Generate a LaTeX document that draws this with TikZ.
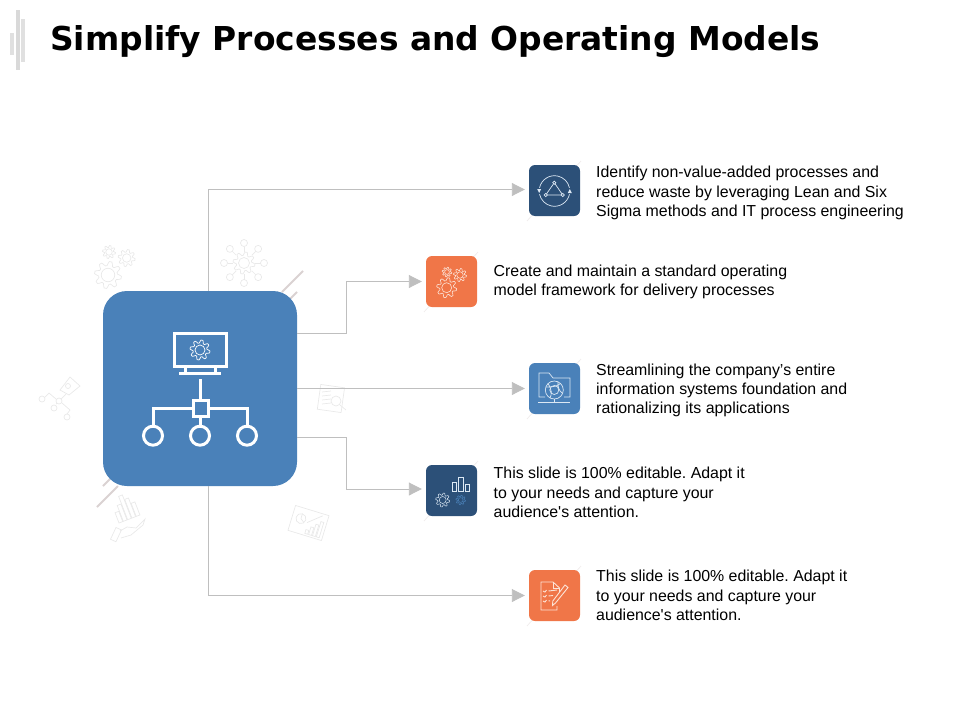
\documentclass[tikz,border=0pt]{standalone}
\usepackage{fontspec}
\setmainfont{Liberation Sans}
\newfontfamily\titlefont{DejaVu Sans}
\usetikzlibrary{arrows.meta,calc}
\definecolor{mainblue}{HTML}{4A81B9}
\definecolor{darkblue}{HTML}{2C5078}
\definecolor{orangebox}{HTML}{F07648}
\definecolor{linegray}{HTML}{BFBFBF}
\definecolor{faint}{HTML}{E9E9E9}
\definecolor{fainter}{HTML}{F1EDED}
\definecolor{diagline}{HTML}{DAD2D2}
\definecolor{paleblue}{HTML}{DCE8F4}
\definecolor{paleorange}{HTML}{FCE3D6}
\tikzset{
  bigbox/.style={fill=mainblue,rounded corners=24pt,minimum width=194pt,minimum height=195pt,inner sep=0pt},
  iconbox/.style={rounded corners=6pt,minimum width=51pt,minimum height=51pt,inner sep=0pt},
  body/.style={anchor=west,align=left,inner sep=0pt,font=\fontsize{15.9}{19.2}\selectfont\frenchspacing,text=black},
  conn/.style={draw=linegray,line width=0.9pt,shorten >=4pt,-{Triangle[length=13pt,width=13pt,fill=linegray,color=linegray]}},
  ghost/.style={draw=faint,line width=0.7pt},
  diag/.style={draw=diagline,line width=1.8pt},
  diagf/.style={draw=fainter,line width=0.8pt},
  wh/.style={draw=white,line width=3pt},
  fine/.style={draw=white,line width=0.7pt},
}
% centre x, centre y, outer radius, teeth, style
\newcommand\gearicon[5]{%
  \pgfmathsetmacro\gsamples{int(#4*8+1)}%
  \draw[#5] plot[domain=0:360,samples=\gsamples,variable=\t]
    ({#1+#3*(0.85+0.15*max(-1,min(1,3*sin(#4*\t))))*cos(\t)},{#2+#3*(0.85+0.15*max(-1,min(1,3*sin(#4*\t))))*sin(\t)}) -- cycle;
  \draw[#5] (#1,#2) circle ({#3*0.5});
}
\begin{document}
\begin{tikzpicture}[x=1pt,y=-1pt]
\useasboundingbox (0,0) rectangle (960,720);
% header bars
\fill[black!15] (16,10) rectangle (20,70);
\fill[black!12] (21.3,19) rectangle (25,62);
\fill[black!12] (10,33) rectangle (14,55);
% diagonals behind main
\draw[diag] (303,271) -- (282,292);
\draw[diag] (297,292) -- (290,299);
\draw[diag] (97,507) -- (118,486);
\draw[diag] (103,486) -- (110,479);
% diagonals behind small boxes
\draw[diagf] (581,161) -- (527,221);
\draw[diagf] (478,252) -- (424,312);
\draw[diagf] (581,359) -- (527,419);
\draw[diagf] (478,461) -- (424,521);
\draw[diagf] (581,566) -- (527,626);
% ghost gears
\gearicon{108}{275}{13.5}{8}{ghost}
\gearicon{126.7}{258}{8.5}{8}{ghost}
\gearicon{109}{252}{6.5}{8}{ghost}
% ghost network gear
\gearicon{244}{263}{11}{8}{ghost}
\foreach \a in {0,45,...,315}{
  \draw[ghost] ($(244,263)+(\a:11)$) -- ($(244,263)+(\a:16.5)$);
  \draw[ghost] ($(244,263)+(\a:20)$) circle (3.5);
}
% ghost workflow
\draw[ghost] (42,399) circle (3);
\draw[ghost] (54,408) circle (3);
\draw[ghost] (59,401) circle (3);
\draw[ghost] (67,417) circle (3);
\draw[ghost] (45,397) -- (49,393) -- (56,399);
\draw[ghost] (61,399) -- (66,394);
\draw[ghost] (62,403) -- (70,410) -- (67,414);
\draw[ghost] (56,404) -- (57,403);
\draw[ghost] (60,390) -- (70,377) -- (80,386) -- (69,395) -- cycle;
\draw[ghost] (68,386) circle (2.5);
% ghost document
\draw[ghost,rotate around={-8:(331,398)}] (319,386) rectangle (343,411);
\foreach \yy in {392,396,400,404}{\draw[ghost] (322,\yy) -- (331,\yy-1);}
\draw[ghost] (336,401) circle (5);
\draw[ghost] (340,405) -- (346,410);
% ghost hand + bars
\begin{scope}[shift={(119,523)},rotate=21]
  \foreach \ii/\hh in {0/11,1/17,2/25,3/20,4/14}{
    \draw[ghost] (\ii*4.6,0) rectangle (\ii*4.6+4,-\hh);
  }
\end{scope}
\draw[ghost] (120,531) -- (127,527) -- (136,528) -- (145,519) -- (143,525) -- (131,535) -- (121,538);
\draw[ghost,rotate around={-25:(118,535)}] (113,529) rectangle (119,542);
% ghost chart
\begin{scope}[rotate around={-17:(308.5,523)}]
  \draw[ghost] (291,510) rectangle (326,536);
  \draw[ghost] (300,521) circle (5);
  \draw[ghost] (300,521) -- (300,516);
  \draw[ghost] (300,521) -- (304,524);
  \foreach \bx/\bt in {308/530,312/526,316/522,320/518}{\draw[ghost] (\bx,534) rectangle (\bx+3,\bt);}
  \draw[ghost] (307,523) -- (320,512);
\end{scope}
% main nodes
\node[bigbox] (main) at (200,388.5) {};
\node[iconbox,fill=darkblue] (box1) at (554.5,190.5) {};
\node[iconbox,fill=orangebox] (box2) at (451.5,281.5) {};
\node[iconbox,fill=mainblue] (box3) at (554.5,388.5) {};
\node[iconbox,fill=darkblue] (box4) at (451.5,490.5) {};
\node[iconbox,fill=orangebox] (box5) at (554.5,595.5) {};
% connectors
\draw[conn] ([xshift=8.5pt]main.north) |- ([yshift=1pt]box1.west);
\draw[conn] ([yshift=55.5pt]main.east) -- ++(49,0) |- (box2.west);
\draw[conn] (main.east |- box3.west) -- (box3.west);
\draw[conn] ([yshift=-48.5pt]main.east) -- ++(49,0) |- ([yshift=1.5pt]box4.west);
\draw[conn] ([xshift=8.5pt]main.south) |- (box5.west);
% main icon
\draw[wh] (174,333) rectangle (226.5,366);
\draw[wh] (185.5,367) -- (185.5,373);
\draw[wh] (215,367) -- (215,373);
\draw[wh] (179,373.5) -- (221,373.5);
\gearicon{200}{350}{10}{8}{draw=white,line width=0.7pt}
\draw[wh] (200,379) -- (200,399);
\draw[wh] (193,400) rectangle (208,416);
\draw[wh] (193,408) -- (153,408) -- (153,426);
\draw[wh] (208,408) -- (247,408) -- (247,426);
\draw[wh] (200,417) -- (200,426);
\foreach \cx in {153,200,247}{\draw[wh] (\cx,435.7) circle (9.5);}
% box 1 icon
\coordinate (c1) at (554.5,191);
\draw[fine,draw=paleblue] ($(c1)+(12:15.3)$) arc[start angle=12,end angle=168,radius=15.3];
\draw[fine,draw=paleblue] ($(c1)+(192:15.3)$) arc[start angle=192,end angle=348,radius=15.3];
\fill[paleblue] (537.2,189) -- (541.2,189) -- (539.2,193) -- cycle;
\fill[paleblue] (567.8,193) -- (571.8,193) -- (569.8,189) -- cycle;
\draw[fine,draw=paleblue] (554.3,182.7) -- (545.7,195) -- (562.7,195) -- cycle;
\foreach \p in {(554.3,182.7),(545.7,195),(562.7,195)}{\filldraw[fine,draw=paleblue,fill=darkblue] \p circle (1.6);}
% box 2 icon
\gearicon{446.7}{287.7}{10}{8}{draw=paleorange,line width=0.6pt}
\gearicon{460}{275}{6.5}{8}{draw=paleorange,line width=0.6pt}
\gearicon{447}{272}{4.8}{8}{draw=paleorange,line width=0.6pt}
% box 3 icon
\draw[fine,draw=paleblue] (545,397) -- (539,397) -- (539,373) -- (549,373) -- (553,378) -- (570,378) -- (570,397) -- (564,397);
\draw[fine,draw=paleblue] (538,402.7) -- (570,402.7);
\draw[fine,draw=paleblue] (554.3,399) -- (554.3,402.7);
\draw[fine,draw=paleblue] (554.3,390) circle (9);
\draw[fine,draw=paleblue] (554.3,390) circle (4.5);
\draw[fine,draw=paleblue] (548,383.5) .. controls (552,390) and (552,394) .. (550,398);
\draw[fine,draw=paleblue] (560.5,383.5) .. controls (556,387) and (551,387) .. (546,387);
\draw[fine,draw=paleblue] (562.5,393.5) .. controls (558,390) and (558,386) .. (558,381.8);
% box 4 icon
\draw[fine,draw=paleblue] (452,491) rectangle (456,482);
\draw[fine,draw=paleblue] (458,491) rectangle (463,477);
\draw[fine,draw=paleblue] (465.5,491) rectangle (469.5,484);
\gearicon{442.7}{500}{7}{8}{draw=paleblue,line width=0.5pt}
\gearicon{460.7}{500}{4.8}{8}{draw=mainblue,line width=0.5pt}
% box 5 icon
\draw[fine,draw=paleorange,line width=0.9pt] (557,606) -- (557,610) -- (541,610) -- (541,582) -- (553,582) -- (559.5,588) -- (559.5,592);
\draw[fine,draw=paleorange,line width=0.9pt] (553,582) -- (553,588) -- (559.5,588);
\foreach \yy in {591,596,601}{\draw[fine,draw=paleorange,line width=0.9pt] (543,\yy) -- (545,\yy+1) -- (546.5,\yy-1);}
\draw[fine,draw=paleorange,line width=0.9pt] (548.5,591) -- (557,590);
\draw[fine,draw=paleorange,line width=0.9pt] (548.5,596) -- (553,595.5);
\draw[fine,draw=paleorange,line width=0.9pt] (548.5,601) -- (550,600.8);
\draw[fine,draw=paleorange,line width=0.9pt] (565,585) -- (568,587.5) -- (555.5,603) -- (552.5,605.5) -- (552.8,601) -- cycle;
% texts
\node[anchor=west,inner sep=0pt,font=\titlefont\fontsize{32.9}{38}\selectfont\bfseries] (title) at (50,42) {Simplify Processes and Operating Models};
\node[body] (t1) at (596,193) {Identify non-value-added processes and\\reduce waste by leveraging Lean and Six\\Sigma methods and IT process engineering};
\node[body] (t2) at (493.5,282) {Create and maintain a standard operating\\model framework for delivery processes};
\node[body] (t3) at (596,390.5) {Streamlining the company’s entire\\information systems foundation and\\rationalizing its applications};
\node[body] (t4) at (493.5,492.5) {This slide is 100\% editable. Adapt it\\to your needs and capture your\\audience\textquotesingle s attention.};
\node[body] (t5) at (596,595.5) {This slide is 100\% editable. Adapt it\\to your needs and capture your\\audience\textquotesingle s attention.};
\end{tikzpicture}
\end{document}
